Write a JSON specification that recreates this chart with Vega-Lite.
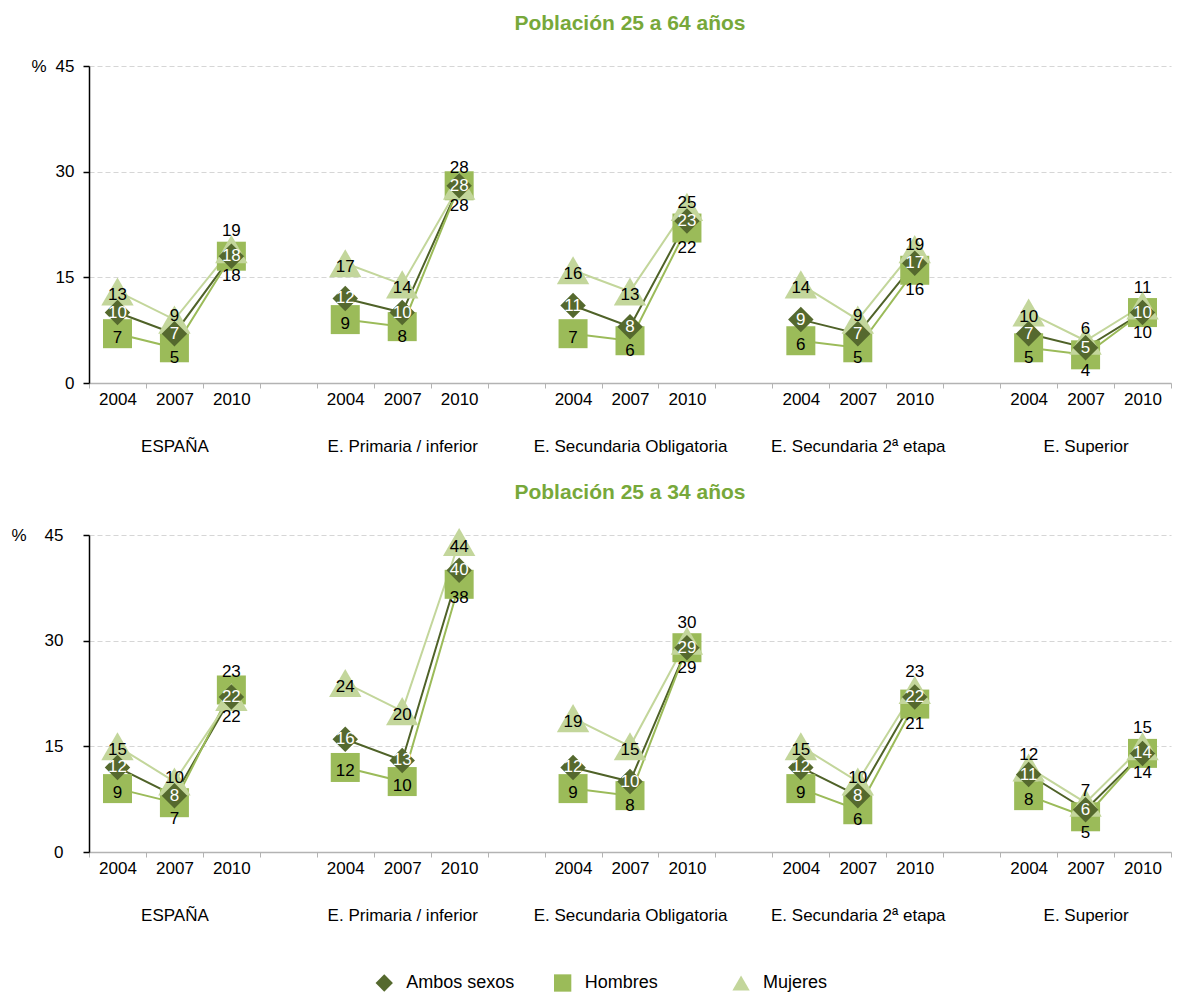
{
  "$schema": "https://vega.github.io/schema/vega-lite/v6.json",
  "background": "white",
  "padding": {"left": 10, "top": 13, "right": 5, "bottom": 0},
  "data": {"values": [
    {"p":"25 a 64","g":"ESPAÑA","y":"2004","s":"Ambos sexos","v":10,"k":"ESPAÑA|2004"},
    {"p":"25 a 64","g":"ESPAÑA","y":"2007","s":"Ambos sexos","v":7,"k":"ESPAÑA|2007"},
    {"p":"25 a 64","g":"ESPAÑA","y":"2010","s":"Ambos sexos","v":18,"k":"ESPAÑA|2010"},
    {"p":"25 a 64","g":"ESPAÑA","y":"2004","s":"Hombres","v":7,"k":"ESPAÑA|2004"},
    {"p":"25 a 64","g":"ESPAÑA","y":"2007","s":"Hombres","v":5,"k":"ESPAÑA|2007"},
    {"p":"25 a 64","g":"ESPAÑA","y":"2010","s":"Hombres","v":18,"k":"ESPAÑA|2010"},
    {"p":"25 a 64","g":"ESPAÑA","y":"2004","s":"Mujeres","v":13,"k":"ESPAÑA|2004"},
    {"p":"25 a 64","g":"ESPAÑA","y":"2007","s":"Mujeres","v":9,"k":"ESPAÑA|2007"},
    {"p":"25 a 64","g":"ESPAÑA","y":"2010","s":"Mujeres","v":19,"k":"ESPAÑA|2010"},
    {"p":"25 a 64","g":"E. Primaria / inferior","y":"2004","s":"Ambos sexos","v":12,"k":"E. Primaria / inferior|2004"},
    {"p":"25 a 64","g":"E. Primaria / inferior","y":"2007","s":"Ambos sexos","v":10,"k":"E. Primaria / inferior|2007"},
    {"p":"25 a 64","g":"E. Primaria / inferior","y":"2010","s":"Ambos sexos","v":28,"k":"E. Primaria / inferior|2010"},
    {"p":"25 a 64","g":"E. Primaria / inferior","y":"2004","s":"Hombres","v":9,"k":"E. Primaria / inferior|2004"},
    {"p":"25 a 64","g":"E. Primaria / inferior","y":"2007","s":"Hombres","v":8,"k":"E. Primaria / inferior|2007"},
    {"p":"25 a 64","g":"E. Primaria / inferior","y":"2010","s":"Hombres","v":28,"k":"E. Primaria / inferior|2010"},
    {"p":"25 a 64","g":"E. Primaria / inferior","y":"2004","s":"Mujeres","v":17,"k":"E. Primaria / inferior|2004"},
    {"p":"25 a 64","g":"E. Primaria / inferior","y":"2007","s":"Mujeres","v":14,"k":"E. Primaria / inferior|2007"},
    {"p":"25 a 64","g":"E. Primaria / inferior","y":"2010","s":"Mujeres","v":28,"k":"E. Primaria / inferior|2010"},
    {"p":"25 a 64","g":"E. Secundaria Obligatoria","y":"2004","s":"Ambos sexos","v":11,"k":"E. Secundaria Obligatoria|2004"},
    {"p":"25 a 64","g":"E. Secundaria Obligatoria","y":"2007","s":"Ambos sexos","v":8,"k":"E. Secundaria Obligatoria|2007"},
    {"p":"25 a 64","g":"E. Secundaria Obligatoria","y":"2010","s":"Ambos sexos","v":23,"k":"E. Secundaria Obligatoria|2010"},
    {"p":"25 a 64","g":"E. Secundaria Obligatoria","y":"2004","s":"Hombres","v":7,"k":"E. Secundaria Obligatoria|2004"},
    {"p":"25 a 64","g":"E. Secundaria Obligatoria","y":"2007","s":"Hombres","v":6,"k":"E. Secundaria Obligatoria|2007"},
    {"p":"25 a 64","g":"E. Secundaria Obligatoria","y":"2010","s":"Hombres","v":22,"k":"E. Secundaria Obligatoria|2010"},
    {"p":"25 a 64","g":"E. Secundaria Obligatoria","y":"2004","s":"Mujeres","v":16,"k":"E. Secundaria Obligatoria|2004"},
    {"p":"25 a 64","g":"E. Secundaria Obligatoria","y":"2007","s":"Mujeres","v":13,"k":"E. Secundaria Obligatoria|2007"},
    {"p":"25 a 64","g":"E. Secundaria Obligatoria","y":"2010","s":"Mujeres","v":25,"k":"E. Secundaria Obligatoria|2010"},
    {"p":"25 a 64","g":"E. Secundaria 2ª etapa","y":"2004","s":"Ambos sexos","v":9,"k":"E. Secundaria 2ª etapa|2004"},
    {"p":"25 a 64","g":"E. Secundaria 2ª etapa","y":"2007","s":"Ambos sexos","v":7,"k":"E. Secundaria 2ª etapa|2007"},
    {"p":"25 a 64","g":"E. Secundaria 2ª etapa","y":"2010","s":"Ambos sexos","v":17,"k":"E. Secundaria 2ª etapa|2010"},
    {"p":"25 a 64","g":"E. Secundaria 2ª etapa","y":"2004","s":"Hombres","v":6,"k":"E. Secundaria 2ª etapa|2004"},
    {"p":"25 a 64","g":"E. Secundaria 2ª etapa","y":"2007","s":"Hombres","v":5,"k":"E. Secundaria 2ª etapa|2007"},
    {"p":"25 a 64","g":"E. Secundaria 2ª etapa","y":"2010","s":"Hombres","v":16,"k":"E. Secundaria 2ª etapa|2010"},
    {"p":"25 a 64","g":"E. Secundaria 2ª etapa","y":"2004","s":"Mujeres","v":14,"k":"E. Secundaria 2ª etapa|2004"},
    {"p":"25 a 64","g":"E. Secundaria 2ª etapa","y":"2007","s":"Mujeres","v":9,"k":"E. Secundaria 2ª etapa|2007"},
    {"p":"25 a 64","g":"E. Secundaria 2ª etapa","y":"2010","s":"Mujeres","v":19,"k":"E. Secundaria 2ª etapa|2010"},
    {"p":"25 a 64","g":"E. Superior","y":"2004","s":"Ambos sexos","v":7,"k":"E. Superior|2004"},
    {"p":"25 a 64","g":"E. Superior","y":"2007","s":"Ambos sexos","v":5,"k":"E. Superior|2007"},
    {"p":"25 a 64","g":"E. Superior","y":"2010","s":"Ambos sexos","v":10,"k":"E. Superior|2010"},
    {"p":"25 a 64","g":"E. Superior","y":"2004","s":"Hombres","v":5,"k":"E. Superior|2004"},
    {"p":"25 a 64","g":"E. Superior","y":"2007","s":"Hombres","v":4,"k":"E. Superior|2007"},
    {"p":"25 a 64","g":"E. Superior","y":"2010","s":"Hombres","v":10,"k":"E. Superior|2010"},
    {"p":"25 a 64","g":"E. Superior","y":"2004","s":"Mujeres","v":10,"k":"E. Superior|2004"},
    {"p":"25 a 64","g":"E. Superior","y":"2007","s":"Mujeres","v":6,"k":"E. Superior|2007"},
    {"p":"25 a 64","g":"E. Superior","y":"2010","s":"Mujeres","v":11,"k":"E. Superior|2010"},
    {"p":"25 a 34","g":"ESPAÑA","y":"2004","s":"Ambos sexos","v":12,"k":"ESPAÑA|2004"},
    {"p":"25 a 34","g":"ESPAÑA","y":"2007","s":"Ambos sexos","v":8,"k":"ESPAÑA|2007"},
    {"p":"25 a 34","g":"ESPAÑA","y":"2010","s":"Ambos sexos","v":22,"k":"ESPAÑA|2010"},
    {"p":"25 a 34","g":"ESPAÑA","y":"2004","s":"Hombres","v":9,"k":"ESPAÑA|2004"},
    {"p":"25 a 34","g":"ESPAÑA","y":"2007","s":"Hombres","v":7,"k":"ESPAÑA|2007"},
    {"p":"25 a 34","g":"ESPAÑA","y":"2010","s":"Hombres","v":23,"k":"ESPAÑA|2010"},
    {"p":"25 a 34","g":"ESPAÑA","y":"2004","s":"Mujeres","v":15,"k":"ESPAÑA|2004"},
    {"p":"25 a 34","g":"ESPAÑA","y":"2007","s":"Mujeres","v":10,"k":"ESPAÑA|2007"},
    {"p":"25 a 34","g":"ESPAÑA","y":"2010","s":"Mujeres","v":22,"k":"ESPAÑA|2010"},
    {"p":"25 a 34","g":"E. Primaria / inferior","y":"2004","s":"Ambos sexos","v":16,"k":"E. Primaria / inferior|2004"},
    {"p":"25 a 34","g":"E. Primaria / inferior","y":"2007","s":"Ambos sexos","v":13,"k":"E. Primaria / inferior|2007"},
    {"p":"25 a 34","g":"E. Primaria / inferior","y":"2010","s":"Ambos sexos","v":40,"k":"E. Primaria / inferior|2010"},
    {"p":"25 a 34","g":"E. Primaria / inferior","y":"2004","s":"Hombres","v":12,"k":"E. Primaria / inferior|2004"},
    {"p":"25 a 34","g":"E. Primaria / inferior","y":"2007","s":"Hombres","v":10,"k":"E. Primaria / inferior|2007"},
    {"p":"25 a 34","g":"E. Primaria / inferior","y":"2010","s":"Hombres","v":38,"k":"E. Primaria / inferior|2010"},
    {"p":"25 a 34","g":"E. Primaria / inferior","y":"2004","s":"Mujeres","v":24,"k":"E. Primaria / inferior|2004"},
    {"p":"25 a 34","g":"E. Primaria / inferior","y":"2007","s":"Mujeres","v":20,"k":"E. Primaria / inferior|2007"},
    {"p":"25 a 34","g":"E. Primaria / inferior","y":"2010","s":"Mujeres","v":44,"k":"E. Primaria / inferior|2010"},
    {"p":"25 a 34","g":"E. Secundaria Obligatoria","y":"2004","s":"Ambos sexos","v":12,"k":"E. Secundaria Obligatoria|2004"},
    {"p":"25 a 34","g":"E. Secundaria Obligatoria","y":"2007","s":"Ambos sexos","v":10,"k":"E. Secundaria Obligatoria|2007"},
    {"p":"25 a 34","g":"E. Secundaria Obligatoria","y":"2010","s":"Ambos sexos","v":29,"k":"E. Secundaria Obligatoria|2010"},
    {"p":"25 a 34","g":"E. Secundaria Obligatoria","y":"2004","s":"Hombres","v":9,"k":"E. Secundaria Obligatoria|2004"},
    {"p":"25 a 34","g":"E. Secundaria Obligatoria","y":"2007","s":"Hombres","v":8,"k":"E. Secundaria Obligatoria|2007"},
    {"p":"25 a 34","g":"E. Secundaria Obligatoria","y":"2010","s":"Hombres","v":29,"k":"E. Secundaria Obligatoria|2010"},
    {"p":"25 a 34","g":"E. Secundaria Obligatoria","y":"2004","s":"Mujeres","v":19,"k":"E. Secundaria Obligatoria|2004"},
    {"p":"25 a 34","g":"E. Secundaria Obligatoria","y":"2007","s":"Mujeres","v":15,"k":"E. Secundaria Obligatoria|2007"},
    {"p":"25 a 34","g":"E. Secundaria Obligatoria","y":"2010","s":"Mujeres","v":30,"k":"E. Secundaria Obligatoria|2010"},
    {"p":"25 a 34","g":"E. Secundaria 2ª etapa","y":"2004","s":"Ambos sexos","v":12,"k":"E. Secundaria 2ª etapa|2004"},
    {"p":"25 a 34","g":"E. Secundaria 2ª etapa","y":"2007","s":"Ambos sexos","v":8,"k":"E. Secundaria 2ª etapa|2007"},
    {"p":"25 a 34","g":"E. Secundaria 2ª etapa","y":"2010","s":"Ambos sexos","v":22,"k":"E. Secundaria 2ª etapa|2010"},
    {"p":"25 a 34","g":"E. Secundaria 2ª etapa","y":"2004","s":"Hombres","v":9,"k":"E. Secundaria 2ª etapa|2004"},
    {"p":"25 a 34","g":"E. Secundaria 2ª etapa","y":"2007","s":"Hombres","v":6,"k":"E. Secundaria 2ª etapa|2007"},
    {"p":"25 a 34","g":"E. Secundaria 2ª etapa","y":"2010","s":"Hombres","v":21,"k":"E. Secundaria 2ª etapa|2010"},
    {"p":"25 a 34","g":"E. Secundaria 2ª etapa","y":"2004","s":"Mujeres","v":15,"k":"E. Secundaria 2ª etapa|2004"},
    {"p":"25 a 34","g":"E. Secundaria 2ª etapa","y":"2007","s":"Mujeres","v":10,"k":"E. Secundaria 2ª etapa|2007"},
    {"p":"25 a 34","g":"E. Secundaria 2ª etapa","y":"2010","s":"Mujeres","v":23,"k":"E. Secundaria 2ª etapa|2010"},
    {"p":"25 a 34","g":"E. Superior","y":"2004","s":"Ambos sexos","v":11,"k":"E. Superior|2004"},
    {"p":"25 a 34","g":"E. Superior","y":"2007","s":"Ambos sexos","v":6,"k":"E. Superior|2007"},
    {"p":"25 a 34","g":"E. Superior","y":"2010","s":"Ambos sexos","v":14,"k":"E. Superior|2010"},
    {"p":"25 a 34","g":"E. Superior","y":"2004","s":"Hombres","v":8,"k":"E. Superior|2004"},
    {"p":"25 a 34","g":"E. Superior","y":"2007","s":"Hombres","v":5,"k":"E. Superior|2007"},
    {"p":"25 a 34","g":"E. Superior","y":"2010","s":"Hombres","v":14,"k":"E. Superior|2010"},
    {"p":"25 a 34","g":"E. Superior","y":"2004","s":"Mujeres","v":12,"k":"E. Superior|2004"},
    {"p":"25 a 34","g":"E. Superior","y":"2007","s":"Mujeres","v":7,"k":"E. Superior|2007"},
    {"p":"25 a 34","g":"E. Superior","y":"2010","s":"Mujeres","v":15,"k":"E. Superior|2010"}
  ]},
  "transform": [
    {"joinaggregate": [
      {"op": "median", "field": "v", "as": "mid"},
      {"op": "max", "field": "v", "as": "mx"},
      {"op": "min", "field": "v", "as": "mn"}
    ], "groupby": ["p", "g", "y"]}
  ],
  "spacing": 28,
  "resolve": {"scale": {"color": "shared", "shape": "shared", "stroke": "shared", "x": "independent"}},
  "vconcat": [
    {
      "title": {"text": "Población 25 a 64 años", "fontSize": 21, "fontWeight": "bold", "color": "#77a83a", "anchor": "middle", "frame": "group", "offset": 23},
      "transform": [{"filter": "datum.p == '25 a 64'"}],
      "width": 1082,
      "height": 317,
      "encoding": {
        "x": {
          "field": "k", "type": "nominal",
          "scale": {"type": "band", "paddingInner": 0, "paddingOuter": 0,
            "domain": ["ESPAÑA|2004","ESPAÑA|2007","ESPAÑA|2010","_1",
              "E. Primaria / inferior|2004","E. Primaria / inferior|2007","E. Primaria / inferior|2010","_2",
              "E. Secundaria Obligatoria|2004","E. Secundaria Obligatoria|2007","E. Secundaria Obligatoria|2010","_3",
              "E. Secundaria 2ª etapa|2004","E. Secundaria 2ª etapa|2007","E. Secundaria 2ª etapa|2010","_4",
              "E. Superior|2004","E. Superior|2007","E. Superior|2010"]},
          "axis": {
            "title": null, "labelAngle": 0, "tickBand": "extent", "grid": false,
            "domainColor": "#b3b3b3", "domainWidth": 1.5, "tickColor": "#b3b3b3", "tickSize": 5,
            "labelPadding": 3, "labelFontSize": 17, "labelColor": "#000", "labelLineHeight": 47,
            "labelOverlap": false, "labelLimit": 0,
            "labelExpr": "indexof(datum.label + '', '|') < 0 ? '' : (split(datum.label + '', '|')[1] == '2007' ? [split(datum.label + '', '|')[1], split(datum.label + '', '|')[0]] : split(datum.label + '', '|')[1])"
          }
        },
        "y": {
          "field": "v", "type": "quantitative",
          "scale": {"domain": [0, 45], "nice": false},
          "axis": {
            "values": [0, 15, 30, 45], "title": "%", "titleAngle": 0, "titleAlign": "right",
            "titleBaseline": "middle", "titleX": -43, "titleY": 0, "titleFontSize": 17,
            "titleFontWeight": "normal", "titleColor": "#000",
            "domainColor": "#000", "domainWidth": 1.5, "tickColor": "#000", "tickSize": 6, "tickWidth": 1.5,
            "labelPadding": 9, "labelFontSize": 17, "labelColor": "#000",
            "grid": true, "gridColor": "#d6d6d6", "gridDash": [5, 3], "gridWidth": 1.2
          }
        }
      },
      "layer": [
        {
          "mark": {"type": "line", "strokeWidth": 2},
          "encoding": {
            "detail": {"field": "g", "type": "nominal"},
            "stroke": {"field": "s", "type": "nominal",
              "scale": {"domain": ["Ambos sexos", "Hombres", "Mujeres"], "range": ["#4f6228", "#9bbb59", "#c3d69b"]},
              "legend": null}
          }
        },
        {
          "encoding": {
            "color": {"field": "s", "type": "nominal",
              "scale": {"domain": ["Ambos sexos", "Hombres", "Mujeres"], "range": ["#55692e", "#9bbb59", "#c3d69b"]},
              "legend": null},
            "shape": {"field": "s", "type": "nominal",
              "scale": {"domain": ["Ambos sexos", "Hombres", "Mujeres"], "range": ["diamond", "square", "triangle-up"]},
              "legend": null}
          },
          "layer": [
            {"transform": [{"filter": "datum.s == 'Hombres'"}], "mark": {"type": "point", "filled": true, "opacity": 1, "size": 841}},
            {"transform": [{"filter": "datum.s == 'Mujeres'"}], "mark": {"type": "point", "filled": true, "opacity": 1, "size": 1050}},
            {"transform": [{"filter": "datum.s == 'Ambos sexos'"}], "mark": {"type": "point", "filled": true, "opacity": 1, "size": 650}}
          ]
        },
        {
          "encoding": {"text": {"field": "v", "type": "quantitative"}},
          "layer": [
            {"transform": [{"filter": "datum.s == 'Ambos sexos'"}], "mark": {"type": "text", "fontSize": 17, "color": "#ffffff", "dy": 0}},
            {"transform": [{"filter": "datum.s == 'Mujeres' && datum.y != '2010' && datum.v - datum.mid <= 1"}], "mark": {"type": "text", "fontSize": 17, "color": "#000", "dy": -12}},
            {"transform": [{"filter": "datum.s == 'Mujeres' && datum.y != '2010' && datum.v - datum.mid == 2"}], "mark": {"type": "text", "fontSize": 17, "color": "#000", "dy": -4}},
            {"transform": [{"filter": "datum.s == 'Mujeres' && datum.y != '2010' && datum.v - datum.mid >= 3"}], "mark": {"type": "text", "fontSize": 17, "color": "#000", "dy": 4}},
            {"transform": [{"filter": "datum.s == 'Hombres' && datum.y != '2010' && datum.mid - datum.v <= 1"}], "mark": {"type": "text", "fontSize": 17, "color": "#000", "dy": 16}},
            {"transform": [{"filter": "datum.s == 'Hombres' && datum.y != '2010' && datum.mid - datum.v == 2"}], "mark": {"type": "text", "fontSize": 17, "color": "#000", "dy": 10}},
            {"transform": [{"filter": "datum.s == 'Hombres' && datum.y != '2010' && datum.mid - datum.v >= 3"}], "mark": {"type": "text", "fontSize": 17, "color": "#000", "dy": 4}},
            {"transform": [{"filter": "datum.y == '2010' && ((datum.s == 'Mujeres' && datum.v == datum.mx) || (datum.s == 'Hombres' && datum.v == datum.mx && datum.v != datum.mn)) && datum.v - datum.mid <= 1"}], "mark": {"type": "text", "fontSize": 17, "color": "#000", "dy": -18}},
            {"transform": [{"filter": "datum.y == '2010' && ((datum.s == 'Mujeres' && datum.v == datum.mx) || (datum.s == 'Hombres' && datum.v == datum.mx && datum.v != datum.mn)) && datum.v - datum.mid >= 2 && datum.v - datum.mid <= 3"}], "mark": {"type": "text", "fontSize": 17, "color": "#000", "dy": -4}},
            {"transform": [{"filter": "datum.y == '2010' && ((datum.s == 'Mujeres' && datum.v == datum.mx) || (datum.s == 'Hombres' && datum.v == datum.mx && datum.v != datum.mn)) && datum.v - datum.mid >= 4"}], "mark": {"type": "text", "fontSize": 17, "color": "#000", "dy": 5}},
            {"transform": [{"filter": "datum.y == '2010' && datum.s != 'Ambos sexos' && !((datum.s == 'Mujeres' && datum.v == datum.mx) || (datum.s == 'Hombres' && datum.v == datum.mx && datum.v != datum.mn)) && datum.mid - datum.v <= 1"}], "mark": {"type": "text", "fontSize": 17, "color": "#000", "dy": 20}},
            {"transform": [{"filter": "datum.y == '2010' && datum.s != 'Ambos sexos' && !((datum.s == 'Mujeres' && datum.v == datum.mx) || (datum.s == 'Hombres' && datum.v == datum.mx && datum.v != datum.mn)) && datum.mid - datum.v >= 2"}], "mark": {"type": "text", "fontSize": 17, "color": "#000", "dy": 14}}
          ]
        }
      ]
    },
    {
      "title": {"text": "Población 25 a 34 años", "fontSize": 21, "fontWeight": "bold", "color": "#77a83a", "anchor": "middle", "frame": "group", "offset": 23},
      "transform": [{"filter": "datum.p == '25 a 34'"}],
      "width": 1082,
      "height": 317,
      "encoding": {
        "x": {
          "field": "k", "type": "nominal",
          "scale": {"type": "band", "paddingInner": 0, "paddingOuter": 0,
            "domain": ["ESPAÑA|2004","ESPAÑA|2007","ESPAÑA|2010","_1",
              "E. Primaria / inferior|2004","E. Primaria / inferior|2007","E. Primaria / inferior|2010","_2",
              "E. Secundaria Obligatoria|2004","E. Secundaria Obligatoria|2007","E. Secundaria Obligatoria|2010","_3",
              "E. Secundaria 2ª etapa|2004","E. Secundaria 2ª etapa|2007","E. Secundaria 2ª etapa|2010","_4",
              "E. Superior|2004","E. Superior|2007","E. Superior|2010"]},
          "axis": {
            "title": null, "labelAngle": 0, "tickBand": "extent", "grid": false,
            "domainColor": "#b3b3b3", "domainWidth": 1.5, "tickColor": "#b3b3b3", "tickSize": 5,
            "labelPadding": 3, "labelFontSize": 17, "labelColor": "#000", "labelLineHeight": 47,
            "labelOverlap": false, "labelLimit": 0,
            "labelExpr": "indexof(datum.label + '', '|') < 0 ? '' : (split(datum.label + '', '|')[1] == '2007' ? [split(datum.label + '', '|')[1], split(datum.label + '', '|')[0]] : split(datum.label + '', '|')[1])"
          }
        },
        "y": {
          "field": "v", "type": "quantitative",
          "scale": {"domain": [0, 45], "nice": false},
          "axis": {
            "values": [0, 15, 30, 45], "title": "%", "titleAngle": 0, "titleAlign": "right",
            "titleBaseline": "middle", "titleX": -63, "titleY": 0, "titleFontSize": 17,
            "titleFontWeight": "normal", "titleColor": "#000",
            "domainColor": "#000", "domainWidth": 1.5, "tickColor": "#000", "tickSize": 6, "tickWidth": 1.5,
            "labelPadding": 20, "labelFontSize": 17, "labelColor": "#000",
            "grid": true, "gridColor": "#d6d6d6", "gridDash": [5, 3], "gridWidth": 1.2
          }
        }
      },
      "layer": [
        {
          "mark": {"type": "line", "strokeWidth": 2},
          "encoding": {
            "detail": {"field": "g", "type": "nominal"},
            "stroke": {"field": "s", "type": "nominal",
              "scale": {"domain": ["Ambos sexos", "Hombres", "Mujeres"], "range": ["#4f6228", "#9bbb59", "#c3d69b"]},
              "legend": null}
          }
        },
        {
          "encoding": {
            "color": {"field": "s", "type": "nominal",
              "scale": {"domain": ["Ambos sexos", "Hombres", "Mujeres"], "range": ["#55692e", "#9bbb59", "#c3d69b"]},
              "legend": null},
            "shape": {"field": "s", "type": "nominal",
              "scale": {"domain": ["Ambos sexos", "Hombres", "Mujeres"], "range": ["diamond", "square", "triangle-up"]},
              "legend": null}
          },
          "layer": [
            {"transform": [{"filter": "datum.s == 'Hombres'"}], "mark": {"type": "point", "filled": true, "opacity": 1, "size": 841}},
            {"transform": [{"filter": "datum.s == 'Mujeres'"}], "mark": {"type": "point", "filled": true, "opacity": 1, "size": 1050}},
            {"transform": [{"filter": "datum.s == 'Ambos sexos'"}], "mark": {"type": "point", "filled": true, "opacity": 1, "size": 650}}
          ]
        },
        {
          "encoding": {"text": {"field": "v", "type": "quantitative"}},
          "layer": [
            {"transform": [{"filter": "datum.s == 'Ambos sexos'"}], "mark": {"type": "text", "fontSize": 17, "color": "#ffffff", "dy": 0}},
            {"transform": [{"filter": "datum.s == 'Mujeres' && datum.y != '2010' && datum.v - datum.mid <= 1"}], "mark": {"type": "text", "fontSize": 17, "color": "#000", "dy": -12}},
            {"transform": [{"filter": "datum.s == 'Mujeres' && datum.y != '2010' && datum.v - datum.mid == 2"}], "mark": {"type": "text", "fontSize": 17, "color": "#000", "dy": -4}},
            {"transform": [{"filter": "datum.s == 'Mujeres' && datum.y != '2010' && datum.v - datum.mid >= 3"}], "mark": {"type": "text", "fontSize": 17, "color": "#000", "dy": 4}},
            {"transform": [{"filter": "datum.s == 'Hombres' && datum.y != '2010' && datum.mid - datum.v <= 1"}], "mark": {"type": "text", "fontSize": 17, "color": "#000", "dy": 16}},
            {"transform": [{"filter": "datum.s == 'Hombres' && datum.y != '2010' && datum.mid - datum.v == 2"}], "mark": {"type": "text", "fontSize": 17, "color": "#000", "dy": 10}},
            {"transform": [{"filter": "datum.s == 'Hombres' && datum.y != '2010' && datum.mid - datum.v >= 3"}], "mark": {"type": "text", "fontSize": 17, "color": "#000", "dy": 4}},
            {"transform": [{"filter": "datum.y == '2010' && ((datum.s == 'Mujeres' && datum.v == datum.mx) || (datum.s == 'Hombres' && datum.v == datum.mx && datum.v != datum.mn)) && datum.v - datum.mid <= 1"}], "mark": {"type": "text", "fontSize": 17, "color": "#000", "dy": -18}},
            {"transform": [{"filter": "datum.y == '2010' && ((datum.s == 'Mujeres' && datum.v == datum.mx) || (datum.s == 'Hombres' && datum.v == datum.mx && datum.v != datum.mn)) && datum.v - datum.mid >= 2 && datum.v - datum.mid <= 3"}], "mark": {"type": "text", "fontSize": 17, "color": "#000", "dy": -4}},
            {"transform": [{"filter": "datum.y == '2010' && ((datum.s == 'Mujeres' && datum.v == datum.mx) || (datum.s == 'Hombres' && datum.v == datum.mx && datum.v != datum.mn)) && datum.v - datum.mid >= 4"}], "mark": {"type": "text", "fontSize": 17, "color": "#000", "dy": 5}},
            {"transform": [{"filter": "datum.y == '2010' && datum.s != 'Ambos sexos' && !((datum.s == 'Mujeres' && datum.v == datum.mx) || (datum.s == 'Hombres' && datum.v == datum.mx && datum.v != datum.mn)) && datum.mid - datum.v <= 1"}], "mark": {"type": "text", "fontSize": 17, "color": "#000", "dy": 20}},
            {"transform": [{"filter": "datum.y == '2010' && datum.s != 'Ambos sexos' && !((datum.s == 'Mujeres' && datum.v == datum.mx) || (datum.s == 'Hombres' && datum.v == datum.mx && datum.v != datum.mn)) && datum.mid - datum.v >= 2"}], "mark": {"type": "text", "fontSize": 17, "color": "#000", "dy": 14}}
          ]
        }
      ]
    },
    {
      "transform": [{"filter": "datum.p == '25 a 64' && datum.g == 'ESPAÑA' && datum.y == '2004'"}],
      "width": 892,
      "height": 64,
      "encoding": {
        "x": {"field": "s", "type": "nominal", "bandPosition": 0,
          "scale": {"type": "band", "domain": ["Ambos sexos", "Hombres", "Mujeres"], "paddingInner": 0, "paddingOuter": 1, "align": 0.8275},
          "axis": null}
      },
      "layer": [
        {
          "mark": {"type": "point", "filled": true, "opacity": 1, "size": 300},
          "encoding": {
            "color": {"field": "s", "type": "nominal",
              "scale": {"domain": ["Ambos sexos", "Hombres", "Mujeres"], "range": ["#55692e", "#9bbb59", "#c3d69b"]},
              "legend": null},
            "shape": {"field": "s", "type": "nominal",
              "scale": {"domain": ["Ambos sexos", "Hombres", "Mujeres"], "range": ["diamond", "square", "triangle-up"]},
              "legend": null}
          }
        },
        {
          "mark": {"type": "text", "align": "left", "baseline": "middle", "dx": 22, "fontSize": 18, "color": "#000"},
          "encoding": {"text": {"field": "s", "type": "nominal"}}
        }
      ]
    }
  ],
  "config": {
    "font": "Liberation Sans",
    "view": {"stroke": null}
  }
}
